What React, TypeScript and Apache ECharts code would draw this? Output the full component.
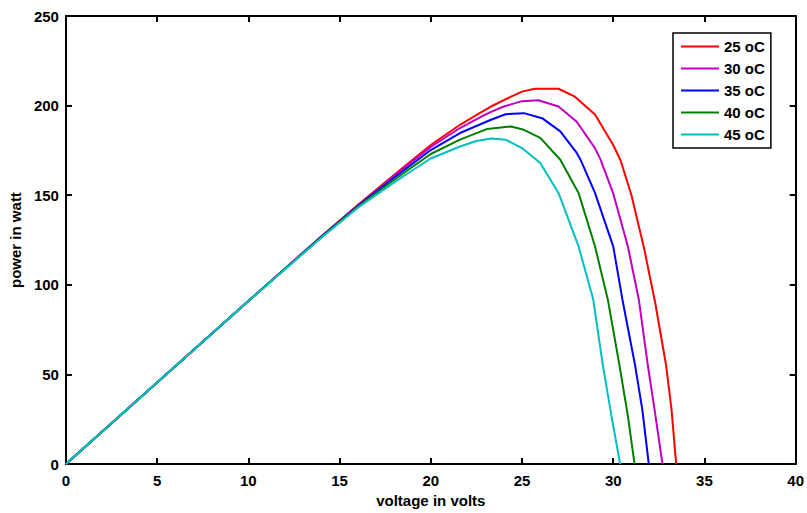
import React, { useEffect, useRef } from "react";
import * as echarts from "echarts";

const seriesNames = ["25 oC", "30 oC", "35 oC", "40 oC", "45 oC"];
const seriesColors = ["#ff0000", "#c000c0", "#0000ff", "#008000", "#00bfbf"];

const volts25 = [0, 5, 10, 14, 16, 17.3, 18.6, 20, 21.6, 22.7, 23.3, 24.4, 25, 25.7, 27, 27.9, 29, 30, 30.4, 31, 31.7, 32.3, 32.9, 33.2, 33.45];
const power25 = [0, 45.5, 91, 127, 144.5, 155.5, 166.5, 178, 189.3, 196, 199.5, 205, 207.8, 209.4, 209.4, 205, 195, 178, 169.5, 150, 120, 90, 55, 30, 0];

const volts30 = [0, 5, 10, 14, 16, 17.3, 18.6, 20, 21.6, 22.7, 23.3, 24, 25, 25.9, 27, 28, 29, 29.3, 30, 30.8, 31.4, 31.9, 32.3, 32.7];
const power30 = [0, 45.5, 91, 127, 144.3, 155, 165.8, 177, 187.5, 193.5, 196.5, 199.5, 202.5, 203, 199.5, 191, 176.3, 170, 151, 121.5, 92, 55, 28, 0];

const volts35 = [0, 5, 10, 14, 16, 17.3, 18.6, 20, 21.6, 23.3, 24.1, 25.1, 26.1, 27.1, 28, 28.2, 29, 30, 30.5, 31.2, 31.6, 31.95];
const power35 = [0, 45.5, 91, 126.8, 144, 154.3, 164.5, 175.2, 184.7, 192.1, 195.2, 195.8, 193, 185.6, 173.6, 170, 151.3, 121.5, 92, 55, 30, 0];

const volts40 = [0, 5, 10, 14, 16, 17.3, 18.6, 20, 21.6, 23.1, 24.4, 25.1, 26, 27.1, 28.1, 29, 29.7, 30.35, 30.8, 31.17];
const power40 = [0, 45.5, 91, 126.6, 143.5, 153.5, 163, 173, 181, 187, 188.4, 186.5, 182, 169.8, 151.3, 121.5, 92, 54.7, 27, 0];

const volts45 = [0, 5, 10, 14, 16, 17.3, 18.6, 20, 21.6, 22.5, 23.3, 24.1, 25, 26, 27, 28.1, 28.9, 29.44, 29.9, 30.38];
const power45 = [0, 45.5, 91, 126.3, 143, 152.3, 161.3, 170.5, 177.2, 180.3, 181.7, 181, 176.3, 168, 151.3, 121.5, 92, 54.7, 27, 0];

const xTicks = { min: 0, max: 40, interval: 5 };
const yTicks = { min: 0, max: 250, interval: 50 };

const allVolts = [volts25, volts30, volts35, volts40, volts45];
const allPower = [power25, power30, power35, power40, power45];

const FONT = "'Liberation Sans', Arial, sans-serif";

export default function App() {
  const ref = useRef<HTMLDivElement>(null);
  useEffect(() => {
    if (!ref.current) return;
    const chart = echarts.init(ref.current, undefined, { renderer: "svg" });
    const axisLine = { show: true, onZero: false, lineStyle: { color: "#000", width: 2 } };
    const tickIn = { show: true, inside: true, length: 6, lineStyle: { color: "#000", width: 2 } };
    const labelStyle = { color: "#000", fontWeight: "bold" as const, fontSize: 15, fontFamily: FONT };
    chart.setOption({
      animation: false,
      backgroundColor: "#fff",
      grid: { left: 63, top: 16, width: 734, height: 449, containLabel: false },
      legend: {
        orient: "vertical",
        left: 673,
        top: 33,
        backgroundColor: "#fff",
        borderColor: "#000",
        borderWidth: 1.5,
        borderRadius: 0,
        padding: [6, 6, 6, 8],
        icon: "rect",
        itemWidth: 38,
        itemHeight: 2,
        itemGap: 7,
        textStyle: { ...labelStyle, lineHeight: 15, padding: [0, 0, 0, 0] },
        data: seriesNames,
      },
      xAxis: [
        {
          type: "value",
          ...xTicks,
          position: "bottom",
          name: "voltage in volts",
          nameLocation: "middle",
          nameGap: 25,
          nameTextStyle: labelStyle,
          axisLine,
          axisTick: tickIn,
          axisLabel: { ...labelStyle, margin: 9 },
          splitLine: { show: false },
        },
        {
          type: "value",
          ...xTicks,
          position: "top",
          axisLine,
          axisTick: tickIn,
          axisLabel: { show: false },
          splitLine: { show: false },
        },
      ],
      yAxis: [
        {
          type: "value",
          ...yTicks,
          position: "left",
          name: "power in watt",
          nameLocation: "middle",
          nameGap: 37,
          nameTextStyle: labelStyle,
          axisLine,
          axisTick: tickIn,
          axisLabel: { ...labelStyle, margin: 7 },
          splitLine: { show: false },
        },
        {
          type: "value",
          ...yTicks,
          position: "right",
          axisLine,
          axisTick: tickIn,
          axisLabel: { show: false },
          splitLine: { show: false },
        },
      ],
      series: seriesNames.map((name, i) => ({
        name,
        type: "line",
        xAxisIndex: 0,
        yAxisIndex: 0,
        showSymbol: false,
        symbol: "none",
        color: seriesColors[i],
        lineStyle: { color: seriesColors[i], width: 2 },
        data: allVolts[i].map((v, k) => [v, allPower[i][k]]),
      })),
    });
    return () => chart.dispose();
  }, []);
  return (
    <div
      ref={ref}
      style={{ position: "fixed", left: 0, top: 0, width: 807, height: 513 }}
    />
  );
}
